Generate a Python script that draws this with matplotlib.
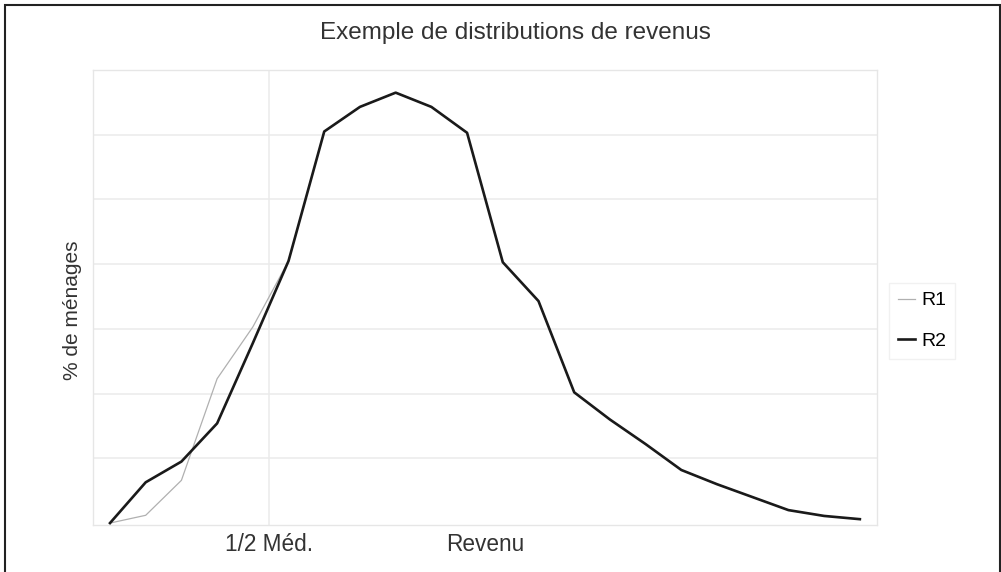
import matplotlib.pyplot as plt
from matplotlib.patches import Rectangle

plt.rcParams.update({
    "font.family": ["Liberation Sans", "DejaVu Sans"],
    "font.size": 16,
})

# Classes de revenu (indices) et % de ménages
classes = list(range(22))
r1 = [0.0, 0.12, 0.66, 2.23, 3.03, 4.05, 6.05, 6.43, 6.65, 6.43, 6.03,
      4.03, 3.43, 2.02, 1.60, 1.22, 0.82, 0.60, 0.40, 0.20, 0.11, 0.06]
r2 = [0.0, 0.63, 0.95, 1.54, 2.78, 4.05, 6.05, 6.43, 6.65, 6.43, 6.03,
      4.03, 3.43, 2.02, 1.60, 1.22, 0.82, 0.60, 0.40, 0.20, 0.11, 0.06]
xticks = [4.45, 10.5]
xlabels = ["1/2 Méd.", "Revenu"]

W, H = 1001, 572
fig = plt.figure(figsize=(W / 100, H / 100), dpi=100)
ax = fig.add_axes([93 / W, 1 - 525 / H, 784 / W, 455 / H])

GRID = "#ebebeb"
for yv in range(1, 7):
    ax.axhline(yv, color=GRID, lw=1.1, zorder=0)
ax.axvline(xticks[0], color=GRID, lw=1.1, zorder=0)

ax.plot(classes, r1, color="#b0b0b0", lw=0.9, label="R1", zorder=2)
ax.plot(classes, r2, color="#1a1a1a", lw=1.9, label="R2", zorder=3)

ax.set_xlim(-0.476, 21.48)
ax.set_ylim(-0.03, 7.0)
ax.set_xticks(xticks)
ax.set_xticklabels(xlabels, fontsize=16.3, color="#333333")
ax.set_yticks([])
ax.tick_params(axis="x", length=0, pad=6)
for s in ax.spines.values():
    s.set_color("#e6e6e6")
    s.set_linewidth(1.0)

fig.text(72 / W, 1 - 310 / H, "% de ménages", rotation=90, ha="center",
         va="center", fontsize=15, color="#333333")
fig.text(515 / W, 1 - 33 / H, "Exemple de distributions de revenus",
         ha="center", va="center", fontsize=17.5, color="#333333")

leg = fig.legend(loc="center", bbox_to_anchor=(922 / W, 1 - 321 / H),
                 fontsize=14, handlelength=0.9, handletextpad=0.3,
                 frameon=True, fancybox=False, borderpad=0.45,
                 labelspacing=1.2)
leg.get_frame().set_edgecolor("#eeeeee")
leg.get_frame().set_linewidth(1.0)

# cadre extérieur
fig.add_artist(Rectangle((5 / W, -0.02), 995 / W, 1.02 - 5 / H,
                         transform=fig.transFigure, fill=False,
                         edgecolor="#222222", lw=1.5))

fig.savefig("out.png", dpi=100, facecolor="white")
